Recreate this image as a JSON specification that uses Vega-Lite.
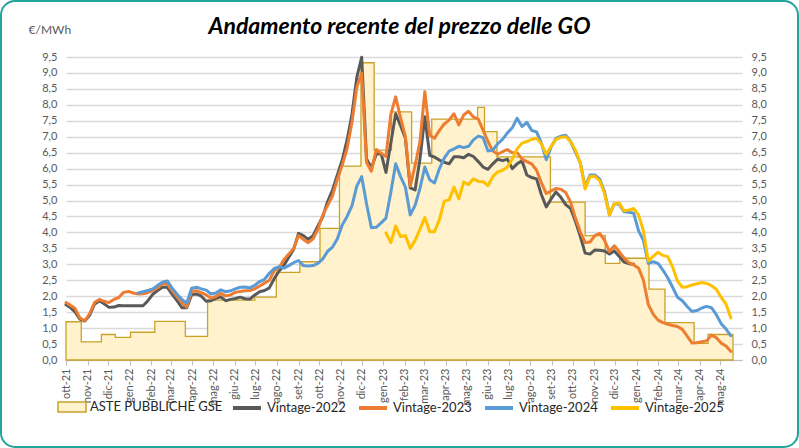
{
  "$schema": "https://vega.github.io/schema/vega-lite/v6.json",
  "width": 797,
  "height": 446,
  "autosize": {"type": "none"},
  "padding": 1,
  "background": "white",
  "title": {
    "text": "Andamento recente del prezzo delle GO",
    "anchor": "middle",
    "frame": "group",
    "font": "Lato",
    "fontSize": 23,
    "fontWeight": "bold",
    "fontStyle": "italic",
    "color": "#000000",
    "baseline": "alphabetic",
    "offset": -56
  },
  "config": {
    "font": "Lato",
    "view": {"stroke": "#22a39b", "strokeWidth": 2, "cornerRadius": 14},
    "axis": {"labelFont": "Lato", "labelColor": "#595959", "labelFontSize": 11},
    "legend": {"labelFont": "Lato", "labelFontSize": 13, "labelColor": "#262626", "padding": 0}
  },
  "datasets": {
    "gse": [
      {"d": "2021-10-01", "v": 1.2},
      {"d": "2021-10-23", "v": 0.57},
      {"d": "2021-11-21", "v": 0.8},
      {"d": "2021-12-11", "v": 0.71},
      {"d": "2022-01-02", "v": 0.87},
      {"d": "2022-02-06", "v": 1.21},
      {"d": "2022-03-22", "v": 0.74},
      {"d": "2022-04-23", "v": 1.88},
      {"d": "2022-06-30", "v": 1.97},
      {"d": "2022-07-31", "v": 2.75},
      {"d": "2022-09-03", "v": 3.08},
      {"d": "2022-10-02", "v": 4.13},
      {"d": "2022-10-30", "v": 6.08},
      {"d": "2022-11-30", "v": 9.32},
      {"d": "2022-12-19", "v": 6.58},
      {"d": "2023-01-13", "v": 7.78},
      {"d": "2023-02-11", "v": 6.17},
      {"d": "2023-03-12", "v": 7.55},
      {"d": "2023-05-17", "v": 7.92},
      {"d": "2023-05-27", "v": 7.16},
      {"d": "2023-06-14", "v": 6.37},
      {"d": "2023-08-30", "v": 4.95},
      {"d": "2023-10-19", "v": 3.9},
      {"d": "2023-11-17", "v": 3.03},
      {"d": "2023-12-08", "v": 3.19},
      {"d": "2024-01-19", "v": 2.22},
      {"d": "2024-02-11", "v": 1.17},
      {"d": "2024-03-24", "v": 0.52},
      {"d": "2024-04-13", "v": 0.8},
      {"d": "2024-05-19", "v": 0.8}
    ],
    "vin": [
      {"d": "2021-10-01", "s": "Vintage-2022", "v": 1.73},
      {"d": "2021-10-07", "s": "Vintage-2022", "v": 1.65},
      {"d": "2021-10-14", "s": "Vintage-2022", "v": 1.51},
      {"d": "2021-10-21", "s": "Vintage-2022", "v": 1.28},
      {"d": "2021-10-28", "s": "Vintage-2022", "v": 1.22},
      {"d": "2021-11-04", "s": "Vintage-2022", "v": 1.40},
      {"d": "2021-11-11", "s": "Vintage-2022", "v": 1.75},
      {"d": "2021-11-18", "s": "Vintage-2022", "v": 1.86},
      {"d": "2021-11-25", "s": "Vintage-2022", "v": 1.76},
      {"d": "2021-12-02", "s": "Vintage-2022", "v": 1.65},
      {"d": "2021-12-09", "s": "Vintage-2022", "v": 1.66},
      {"d": "2021-12-16", "s": "Vintage-2022", "v": 1.71},
      {"d": "2021-12-23", "s": "Vintage-2022", "v": 1.70},
      {"d": "2021-12-30", "s": "Vintage-2022", "v": 1.70},
      {"d": "2022-01-06", "s": "Vintage-2022", "v": 1.70},
      {"d": "2022-01-13", "s": "Vintage-2022", "v": 1.70},
      {"d": "2022-01-20", "s": "Vintage-2022", "v": 1.70},
      {"d": "2022-01-27", "s": "Vintage-2022", "v": 1.86},
      {"d": "2022-02-03", "s": "Vintage-2022", "v": 2.06},
      {"d": "2022-02-10", "s": "Vintage-2022", "v": 2.18},
      {"d": "2022-02-17", "s": "Vintage-2022", "v": 2.28},
      {"d": "2022-02-24", "s": "Vintage-2022", "v": 2.28},
      {"d": "2022-03-03", "s": "Vintage-2022", "v": 2.06},
      {"d": "2022-03-10", "s": "Vintage-2022", "v": 1.86},
      {"d": "2022-03-17", "s": "Vintage-2022", "v": 1.64},
      {"d": "2022-03-24", "s": "Vintage-2022", "v": 1.64},
      {"d": "2022-03-31", "s": "Vintage-2022", "v": 2.05},
      {"d": "2022-04-07", "s": "Vintage-2022", "v": 2.07},
      {"d": "2022-04-14", "s": "Vintage-2022", "v": 2.00},
      {"d": "2022-04-21", "s": "Vintage-2022", "v": 1.84},
      {"d": "2022-04-28", "s": "Vintage-2022", "v": 1.86},
      {"d": "2022-05-05", "s": "Vintage-2022", "v": 1.93},
      {"d": "2022-05-12", "s": "Vintage-2022", "v": 1.98},
      {"d": "2022-05-19", "s": "Vintage-2022", "v": 1.86},
      {"d": "2022-05-26", "s": "Vintage-2022", "v": 1.90},
      {"d": "2022-06-02", "s": "Vintage-2022", "v": 1.93},
      {"d": "2022-06-09", "s": "Vintage-2022", "v": 1.97},
      {"d": "2022-06-16", "s": "Vintage-2022", "v": 1.92},
      {"d": "2022-06-23", "s": "Vintage-2022", "v": 1.91},
      {"d": "2022-06-30", "s": "Vintage-2022", "v": 2.04},
      {"d": "2022-07-07", "s": "Vintage-2022", "v": 2.14},
      {"d": "2022-07-14", "s": "Vintage-2022", "v": 2.18},
      {"d": "2022-07-21", "s": "Vintage-2022", "v": 2.26},
      {"d": "2022-07-28", "s": "Vintage-2022", "v": 2.55},
      {"d": "2022-08-04", "s": "Vintage-2022", "v": 2.79},
      {"d": "2022-08-11", "s": "Vintage-2022", "v": 2.97},
      {"d": "2022-08-18", "s": "Vintage-2022", "v": 3.22},
      {"d": "2022-08-25", "s": "Vintage-2022", "v": 3.47},
      {"d": "2022-09-01", "s": "Vintage-2022", "v": 3.97},
      {"d": "2022-09-08", "s": "Vintage-2022", "v": 3.90},
      {"d": "2022-09-15", "s": "Vintage-2022", "v": 3.78},
      {"d": "2022-09-22", "s": "Vintage-2022", "v": 3.90},
      {"d": "2022-09-29", "s": "Vintage-2022", "v": 4.20},
      {"d": "2022-10-06", "s": "Vintage-2022", "v": 4.50},
      {"d": "2022-10-13", "s": "Vintage-2022", "v": 4.97},
      {"d": "2022-10-20", "s": "Vintage-2022", "v": 5.33},
      {"d": "2022-10-27", "s": "Vintage-2022", "v": 5.80},
      {"d": "2022-11-03", "s": "Vintage-2022", "v": 6.27},
      {"d": "2022-11-10", "s": "Vintage-2022", "v": 6.90},
      {"d": "2022-11-17", "s": "Vintage-2022", "v": 7.70},
      {"d": "2022-11-24", "s": "Vintage-2022", "v": 8.86},
      {"d": "2022-12-01", "s": "Vintage-2022", "v": 9.49},
      {"d": "2022-12-08", "s": "Vintage-2022", "v": 6.30},
      {"d": "2022-12-15", "s": "Vintage-2022", "v": 6.02},
      {"d": "2022-12-22", "s": "Vintage-2022", "v": 6.45},
      {"d": "2022-12-29", "s": "Vintage-2022", "v": 6.48},
      {"d": "2023-01-05", "s": "Vintage-2022", "v": 5.88},
      {"d": "2023-01-12", "s": "Vintage-2022", "v": 6.80},
      {"d": "2023-01-19", "s": "Vintage-2022", "v": 7.72},
      {"d": "2023-01-26", "s": "Vintage-2022", "v": 7.35},
      {"d": "2023-02-02", "s": "Vintage-2022", "v": 6.95},
      {"d": "2023-02-09", "s": "Vintage-2022", "v": 5.40},
      {"d": "2023-02-16", "s": "Vintage-2022", "v": 5.33},
      {"d": "2023-02-23", "s": "Vintage-2022", "v": 6.30},
      {"d": "2023-03-02", "s": "Vintage-2022", "v": 7.63},
      {"d": "2023-03-09", "s": "Vintage-2022", "v": 6.42},
      {"d": "2023-03-16", "s": "Vintage-2022", "v": 6.36},
      {"d": "2023-03-23", "s": "Vintage-2022", "v": 6.27},
      {"d": "2023-03-30", "s": "Vintage-2022", "v": 6.20},
      {"d": "2023-04-06", "s": "Vintage-2022", "v": 6.15},
      {"d": "2023-04-13", "s": "Vintage-2022", "v": 6.37},
      {"d": "2023-04-20", "s": "Vintage-2022", "v": 6.37},
      {"d": "2023-04-27", "s": "Vintage-2022", "v": 6.34},
      {"d": "2023-05-04", "s": "Vintage-2022", "v": 6.45},
      {"d": "2023-05-11", "s": "Vintage-2022", "v": 6.38},
      {"d": "2023-05-18", "s": "Vintage-2022", "v": 6.22},
      {"d": "2023-05-25", "s": "Vintage-2022", "v": 6.05},
      {"d": "2023-06-01", "s": "Vintage-2022", "v": 5.98},
      {"d": "2023-06-08", "s": "Vintage-2022", "v": 6.15},
      {"d": "2023-06-15", "s": "Vintage-2022", "v": 6.30},
      {"d": "2023-06-22", "s": "Vintage-2022", "v": 6.25},
      {"d": "2023-06-29", "s": "Vintage-2022", "v": 6.30},
      {"d": "2023-07-06", "s": "Vintage-2022", "v": 6.00},
      {"d": "2023-07-13", "s": "Vintage-2022", "v": 6.15},
      {"d": "2023-07-20", "s": "Vintage-2022", "v": 6.25},
      {"d": "2023-07-27", "s": "Vintage-2022", "v": 5.80},
      {"d": "2023-08-03", "s": "Vintage-2022", "v": 5.72},
      {"d": "2023-08-10", "s": "Vintage-2022", "v": 5.68},
      {"d": "2023-08-17", "s": "Vintage-2022", "v": 5.18},
      {"d": "2023-08-24", "s": "Vintage-2022", "v": 4.80},
      {"d": "2023-08-31", "s": "Vintage-2022", "v": 5.05},
      {"d": "2023-09-07", "s": "Vintage-2022", "v": 5.27},
      {"d": "2023-09-14", "s": "Vintage-2022", "v": 5.10},
      {"d": "2023-09-21", "s": "Vintage-2022", "v": 4.87},
      {"d": "2023-09-28", "s": "Vintage-2022", "v": 4.75},
      {"d": "2023-10-05", "s": "Vintage-2022", "v": 4.35},
      {"d": "2023-10-12", "s": "Vintage-2022", "v": 3.88},
      {"d": "2023-10-19", "s": "Vintage-2022", "v": 3.35},
      {"d": "2023-10-26", "s": "Vintage-2022", "v": 3.32},
      {"d": "2023-11-02", "s": "Vintage-2022", "v": 3.45},
      {"d": "2023-11-09", "s": "Vintage-2022", "v": 3.44},
      {"d": "2023-11-16", "s": "Vintage-2022", "v": 3.42},
      {"d": "2023-11-23", "s": "Vintage-2022", "v": 3.32},
      {"d": "2023-11-30", "s": "Vintage-2022", "v": 3.42},
      {"d": "2023-12-07", "s": "Vintage-2022", "v": 3.25},
      {"d": "2023-12-14", "s": "Vintage-2022", "v": 3.07},
      {"d": "2023-12-21", "s": "Vintage-2022", "v": 3.02},
      {"d": "2023-12-28", "s": "Vintage-2022", "v": 3.00},

      {"d": "2021-10-01", "s": "Vintage-2023", "v": 1.80},
      {"d": "2021-10-07", "s": "Vintage-2023", "v": 1.72},
      {"d": "2021-10-14", "s": "Vintage-2023", "v": 1.62},
      {"d": "2021-10-21", "s": "Vintage-2023", "v": 1.32},
      {"d": "2021-10-28", "s": "Vintage-2023", "v": 1.23},
      {"d": "2021-11-04", "s": "Vintage-2023", "v": 1.45},
      {"d": "2021-11-11", "s": "Vintage-2023", "v": 1.80},
      {"d": "2021-11-18", "s": "Vintage-2023", "v": 1.90},
      {"d": "2021-11-25", "s": "Vintage-2023", "v": 1.84},
      {"d": "2021-12-02", "s": "Vintage-2023", "v": 1.80},
      {"d": "2021-12-09", "s": "Vintage-2023", "v": 1.90},
      {"d": "2021-12-16", "s": "Vintage-2023", "v": 1.96},
      {"d": "2021-12-23", "s": "Vintage-2023", "v": 2.12},
      {"d": "2021-12-30", "s": "Vintage-2023", "v": 2.15},
      {"d": "2022-01-06", "s": "Vintage-2023", "v": 2.10},
      {"d": "2022-01-13", "s": "Vintage-2023", "v": 2.07},
      {"d": "2022-01-20", "s": "Vintage-2023", "v": 2.08},
      {"d": "2022-01-27", "s": "Vintage-2023", "v": 2.11},
      {"d": "2022-02-03", "s": "Vintage-2023", "v": 2.18},
      {"d": "2022-02-10", "s": "Vintage-2023", "v": 2.27},
      {"d": "2022-02-17", "s": "Vintage-2023", "v": 2.38},
      {"d": "2022-02-24", "s": "Vintage-2023", "v": 2.39},
      {"d": "2022-03-03", "s": "Vintage-2023", "v": 2.17},
      {"d": "2022-03-10", "s": "Vintage-2023", "v": 1.98},
      {"d": "2022-03-17", "s": "Vintage-2023", "v": 1.80},
      {"d": "2022-03-24", "s": "Vintage-2023", "v": 1.66},
      {"d": "2022-03-31", "s": "Vintage-2023", "v": 2.15},
      {"d": "2022-04-07", "s": "Vintage-2023", "v": 2.17},
      {"d": "2022-04-14", "s": "Vintage-2023", "v": 2.11},
      {"d": "2022-04-21", "s": "Vintage-2023", "v": 2.04},
      {"d": "2022-04-28", "s": "Vintage-2023", "v": 1.94},
      {"d": "2022-05-05", "s": "Vintage-2023", "v": 1.99},
      {"d": "2022-05-12", "s": "Vintage-2023", "v": 2.09},
      {"d": "2022-05-19", "s": "Vintage-2023", "v": 2.01},
      {"d": "2022-05-26", "s": "Vintage-2023", "v": 2.04},
      {"d": "2022-06-02", "s": "Vintage-2023", "v": 2.12},
      {"d": "2022-06-09", "s": "Vintage-2023", "v": 2.15},
      {"d": "2022-06-16", "s": "Vintage-2023", "v": 2.17},
      {"d": "2022-06-23", "s": "Vintage-2023", "v": 2.18},
      {"d": "2022-06-30", "s": "Vintage-2023", "v": 2.23},
      {"d": "2022-07-07", "s": "Vintage-2023", "v": 2.32},
      {"d": "2022-07-14", "s": "Vintage-2023", "v": 2.41},
      {"d": "2022-07-21", "s": "Vintage-2023", "v": 2.50},
      {"d": "2022-07-28", "s": "Vintage-2023", "v": 2.80},
      {"d": "2022-08-04", "s": "Vintage-2023", "v": 2.89},
      {"d": "2022-08-11", "s": "Vintage-2023", "v": 3.15},
      {"d": "2022-08-18", "s": "Vintage-2023", "v": 3.32},
      {"d": "2022-08-25", "s": "Vintage-2023", "v": 3.50},
      {"d": "2022-09-01", "s": "Vintage-2023", "v": 3.90},
      {"d": "2022-09-08", "s": "Vintage-2023", "v": 3.78},
      {"d": "2022-09-15", "s": "Vintage-2023", "v": 3.68},
      {"d": "2022-09-22", "s": "Vintage-2023", "v": 3.80},
      {"d": "2022-09-29", "s": "Vintage-2023", "v": 4.10},
      {"d": "2022-10-06", "s": "Vintage-2023", "v": 4.55},
      {"d": "2022-10-13", "s": "Vintage-2023", "v": 4.85},
      {"d": "2022-10-20", "s": "Vintage-2023", "v": 5.15},
      {"d": "2022-10-27", "s": "Vintage-2023", "v": 5.67},
      {"d": "2022-11-03", "s": "Vintage-2023", "v": 6.11},
      {"d": "2022-11-10", "s": "Vintage-2023", "v": 6.63},
      {"d": "2022-11-17", "s": "Vintage-2023", "v": 7.45},
      {"d": "2022-11-24", "s": "Vintage-2023", "v": 8.55},
      {"d": "2022-12-01", "s": "Vintage-2023", "v": 8.99},
      {"d": "2022-12-08", "s": "Vintage-2023", "v": 6.20},
      {"d": "2022-12-15", "s": "Vintage-2023", "v": 5.92},
      {"d": "2022-12-22", "s": "Vintage-2023", "v": 6.60},
      {"d": "2022-12-29", "s": "Vintage-2023", "v": 6.48},
      {"d": "2023-01-05", "s": "Vintage-2023", "v": 6.38},
      {"d": "2023-01-12", "s": "Vintage-2023", "v": 7.70},
      {"d": "2023-01-19", "s": "Vintage-2023", "v": 8.25},
      {"d": "2023-01-26", "s": "Vintage-2023", "v": 7.60},
      {"d": "2023-02-02", "s": "Vintage-2023", "v": 7.00},
      {"d": "2023-02-09", "s": "Vintage-2023", "v": 5.45},
      {"d": "2023-02-16", "s": "Vintage-2023", "v": 6.10},
      {"d": "2023-02-23", "s": "Vintage-2023", "v": 6.85},
      {"d": "2023-03-02", "s": "Vintage-2023", "v": 8.41},
      {"d": "2023-03-09", "s": "Vintage-2023", "v": 7.05},
      {"d": "2023-03-16", "s": "Vintage-2023", "v": 6.95},
      {"d": "2023-03-23", "s": "Vintage-2023", "v": 7.20},
      {"d": "2023-03-30", "s": "Vintage-2023", "v": 7.40},
      {"d": "2023-04-06", "s": "Vintage-2023", "v": 7.52},
      {"d": "2023-04-13", "s": "Vintage-2023", "v": 7.72},
      {"d": "2023-04-20", "s": "Vintage-2023", "v": 7.37},
      {"d": "2023-04-27", "s": "Vintage-2023", "v": 7.68},
      {"d": "2023-05-04", "s": "Vintage-2023", "v": 7.80},
      {"d": "2023-05-11", "s": "Vintage-2023", "v": 7.62},
      {"d": "2023-05-18", "s": "Vintage-2023", "v": 7.55},
      {"d": "2023-05-25", "s": "Vintage-2023", "v": 7.20},
      {"d": "2023-06-01", "s": "Vintage-2023", "v": 6.85},
      {"d": "2023-06-08", "s": "Vintage-2023", "v": 6.55},
      {"d": "2023-06-15", "s": "Vintage-2023", "v": 6.45},
      {"d": "2023-06-22", "s": "Vintage-2023", "v": 6.53},
      {"d": "2023-06-29", "s": "Vintage-2023", "v": 6.60},
      {"d": "2023-07-06", "s": "Vintage-2023", "v": 6.50},
      {"d": "2023-07-13", "s": "Vintage-2023", "v": 6.50},
      {"d": "2023-07-20", "s": "Vintage-2023", "v": 6.30},
      {"d": "2023-07-27", "s": "Vintage-2023", "v": 6.22},
      {"d": "2023-08-03", "s": "Vintage-2023", "v": 6.15},
      {"d": "2023-08-10", "s": "Vintage-2023", "v": 5.95},
      {"d": "2023-08-17", "s": "Vintage-2023", "v": 5.55},
      {"d": "2023-08-24", "s": "Vintage-2023", "v": 5.22},
      {"d": "2023-08-31", "s": "Vintage-2023", "v": 5.30},
      {"d": "2023-09-07", "s": "Vintage-2023", "v": 5.38},
      {"d": "2023-09-14", "s": "Vintage-2023", "v": 5.35},
      {"d": "2023-09-21", "s": "Vintage-2023", "v": 5.25},
      {"d": "2023-09-28", "s": "Vintage-2023", "v": 4.95},
      {"d": "2023-10-05", "s": "Vintage-2023", "v": 4.45},
      {"d": "2023-10-12", "s": "Vintage-2023", "v": 4.02},
      {"d": "2023-10-19", "s": "Vintage-2023", "v": 3.68},
      {"d": "2023-10-26", "s": "Vintage-2023", "v": 3.70},
      {"d": "2023-11-02", "s": "Vintage-2023", "v": 3.90},
      {"d": "2023-11-09", "s": "Vintage-2023", "v": 3.97},
      {"d": "2023-11-16", "s": "Vintage-2023", "v": 3.75},
      {"d": "2023-11-23", "s": "Vintage-2023", "v": 3.40},
      {"d": "2023-11-30", "s": "Vintage-2023", "v": 3.58},
      {"d": "2023-12-07", "s": "Vintage-2023", "v": 3.40},
      {"d": "2023-12-14", "s": "Vintage-2023", "v": 3.20},
      {"d": "2023-12-21", "s": "Vintage-2023", "v": 3.05},
      {"d": "2023-12-28", "s": "Vintage-2023", "v": 2.98},
      {"d": "2024-01-04", "s": "Vintage-2023", "v": 2.88},
      {"d": "2024-01-11", "s": "Vintage-2023", "v": 2.50},
      {"d": "2024-01-18", "s": "Vintage-2023", "v": 1.74},
      {"d": "2024-01-25", "s": "Vintage-2023", "v": 1.44},
      {"d": "2024-02-01", "s": "Vintage-2023", "v": 1.25},
      {"d": "2024-02-08", "s": "Vintage-2023", "v": 1.17},
      {"d": "2024-02-15", "s": "Vintage-2023", "v": 1.12},
      {"d": "2024-02-22", "s": "Vintage-2023", "v": 1.08},
      {"d": "2024-02-29", "s": "Vintage-2023", "v": 1.05},
      {"d": "2024-03-07", "s": "Vintage-2023", "v": 0.96},
      {"d": "2024-03-14", "s": "Vintage-2023", "v": 0.75},
      {"d": "2024-03-21", "s": "Vintage-2023", "v": 0.53},
      {"d": "2024-03-28", "s": "Vintage-2023", "v": 0.54},
      {"d": "2024-04-04", "s": "Vintage-2023", "v": 0.57},
      {"d": "2024-04-11", "s": "Vintage-2023", "v": 0.60},
      {"d": "2024-04-18", "s": "Vintage-2023", "v": 0.78},
      {"d": "2024-04-25", "s": "Vintage-2023", "v": 0.70},
      {"d": "2024-05-02", "s": "Vintage-2023", "v": 0.53},
      {"d": "2024-05-09", "s": "Vintage-2023", "v": 0.44},
      {"d": "2024-05-16", "s": "Vintage-2023", "v": 0.27},

      {"d": "2022-01-13", "s": "Vintage-2024", "v": 2.10},
      {"d": "2022-01-20", "s": "Vintage-2024", "v": 2.14},
      {"d": "2022-01-27", "s": "Vintage-2024", "v": 2.18},
      {"d": "2022-02-03", "s": "Vintage-2024", "v": 2.23},
      {"d": "2022-02-10", "s": "Vintage-2024", "v": 2.34},
      {"d": "2022-02-17", "s": "Vintage-2024", "v": 2.44},
      {"d": "2022-02-24", "s": "Vintage-2024", "v": 2.48},
      {"d": "2022-03-03", "s": "Vintage-2024", "v": 2.25},
      {"d": "2022-03-10", "s": "Vintage-2024", "v": 2.06},
      {"d": "2022-03-17", "s": "Vintage-2024", "v": 1.90},
      {"d": "2022-03-24", "s": "Vintage-2024", "v": 1.78},
      {"d": "2022-03-31", "s": "Vintage-2024", "v": 2.25},
      {"d": "2022-04-07", "s": "Vintage-2024", "v": 2.28},
      {"d": "2022-04-14", "s": "Vintage-2024", "v": 2.23},
      {"d": "2022-04-21", "s": "Vintage-2024", "v": 2.19},
      {"d": "2022-04-28", "s": "Vintage-2024", "v": 2.07},
      {"d": "2022-05-05", "s": "Vintage-2024", "v": 2.10},
      {"d": "2022-05-12", "s": "Vintage-2024", "v": 2.20},
      {"d": "2022-05-19", "s": "Vintage-2024", "v": 2.14},
      {"d": "2022-05-26", "s": "Vintage-2024", "v": 2.17},
      {"d": "2022-06-02", "s": "Vintage-2024", "v": 2.23},
      {"d": "2022-06-09", "s": "Vintage-2024", "v": 2.28},
      {"d": "2022-06-16", "s": "Vintage-2024", "v": 2.29},
      {"d": "2022-06-23", "s": "Vintage-2024", "v": 2.26},
      {"d": "2022-06-30", "s": "Vintage-2024", "v": 2.34},
      {"d": "2022-07-07", "s": "Vintage-2024", "v": 2.46},
      {"d": "2022-07-14", "s": "Vintage-2024", "v": 2.53},
      {"d": "2022-07-21", "s": "Vintage-2024", "v": 2.72},
      {"d": "2022-07-28", "s": "Vintage-2024", "v": 2.87},
      {"d": "2022-08-04", "s": "Vintage-2024", "v": 2.92},
      {"d": "2022-08-11", "s": "Vintage-2024", "v": 2.88},
      {"d": "2022-08-18", "s": "Vintage-2024", "v": 2.96},
      {"d": "2022-08-25", "s": "Vintage-2024", "v": 3.05},
      {"d": "2022-09-01", "s": "Vintage-2024", "v": 3.12},
      {"d": "2022-09-08", "s": "Vintage-2024", "v": 2.96},
      {"d": "2022-09-15", "s": "Vintage-2024", "v": 2.95},
      {"d": "2022-09-22", "s": "Vintage-2024", "v": 2.96},
      {"d": "2022-09-29", "s": "Vintage-2024", "v": 3.03},
      {"d": "2022-10-06", "s": "Vintage-2024", "v": 3.17},
      {"d": "2022-10-13", "s": "Vintage-2024", "v": 3.41},
      {"d": "2022-10-20", "s": "Vintage-2024", "v": 3.54},
      {"d": "2022-10-27", "s": "Vintage-2024", "v": 3.80},
      {"d": "2022-11-03", "s": "Vintage-2024", "v": 4.23},
      {"d": "2022-11-10", "s": "Vintage-2024", "v": 4.50},
      {"d": "2022-11-17", "s": "Vintage-2024", "v": 4.83},
      {"d": "2022-11-24", "s": "Vintage-2024", "v": 5.45},
      {"d": "2022-12-01", "s": "Vintage-2024", "v": 5.75},
      {"d": "2022-12-08", "s": "Vintage-2024", "v": 4.90},
      {"d": "2022-12-15", "s": "Vintage-2024", "v": 4.15},
      {"d": "2022-12-22", "s": "Vintage-2024", "v": 4.16},
      {"d": "2022-12-29", "s": "Vintage-2024", "v": 4.30},
      {"d": "2023-01-05", "s": "Vintage-2024", "v": 4.45},
      {"d": "2023-01-12", "s": "Vintage-2024", "v": 5.25},
      {"d": "2023-01-19", "s": "Vintage-2024", "v": 6.15},
      {"d": "2023-01-26", "s": "Vintage-2024", "v": 5.75},
      {"d": "2023-02-02", "s": "Vintage-2024", "v": 5.42},
      {"d": "2023-02-09", "s": "Vintage-2024", "v": 4.55},
      {"d": "2023-02-16", "s": "Vintage-2024", "v": 4.85},
      {"d": "2023-02-23", "s": "Vintage-2024", "v": 5.38},
      {"d": "2023-03-02", "s": "Vintage-2024", "v": 6.05},
      {"d": "2023-03-09", "s": "Vintage-2024", "v": 5.65},
      {"d": "2023-03-16", "s": "Vintage-2024", "v": 5.55},
      {"d": "2023-03-23", "s": "Vintage-2024", "v": 6.00},
      {"d": "2023-03-30", "s": "Vintage-2024", "v": 6.33},
      {"d": "2023-04-06", "s": "Vintage-2024", "v": 6.55},
      {"d": "2023-04-13", "s": "Vintage-2024", "v": 6.62},
      {"d": "2023-04-20", "s": "Vintage-2024", "v": 6.70},
      {"d": "2023-04-27", "s": "Vintage-2024", "v": 6.66},
      {"d": "2023-05-04", "s": "Vintage-2024", "v": 6.70},
      {"d": "2023-05-11", "s": "Vintage-2024", "v": 6.90},
      {"d": "2023-05-18", "s": "Vintage-2024", "v": 7.02},
      {"d": "2023-05-25", "s": "Vintage-2024", "v": 6.97},
      {"d": "2023-06-01", "s": "Vintage-2024", "v": 6.55},
      {"d": "2023-06-08", "s": "Vintage-2024", "v": 6.58},
      {"d": "2023-06-15", "s": "Vintage-2024", "v": 6.78},
      {"d": "2023-06-22", "s": "Vintage-2024", "v": 6.92},
      {"d": "2023-06-29", "s": "Vintage-2024", "v": 7.12},
      {"d": "2023-07-06", "s": "Vintage-2024", "v": 7.28},
      {"d": "2023-07-13", "s": "Vintage-2024", "v": 7.58},
      {"d": "2023-07-20", "s": "Vintage-2024", "v": 7.32},
      {"d": "2023-07-27", "s": "Vintage-2024", "v": 7.45},
      {"d": "2023-08-03", "s": "Vintage-2024", "v": 7.20},
      {"d": "2023-08-10", "s": "Vintage-2024", "v": 7.15},
      {"d": "2023-08-17", "s": "Vintage-2024", "v": 6.80},
      {"d": "2023-08-24", "s": "Vintage-2024", "v": 6.28},
      {"d": "2023-08-31", "s": "Vintage-2024", "v": 6.68},
      {"d": "2023-09-07", "s": "Vintage-2024", "v": 6.95},
      {"d": "2023-09-14", "s": "Vintage-2024", "v": 7.02},
      {"d": "2023-09-21", "s": "Vintage-2024", "v": 7.05},
      {"d": "2023-09-28", "s": "Vintage-2024", "v": 6.85},
      {"d": "2023-10-05", "s": "Vintage-2024", "v": 6.52},
      {"d": "2023-10-12", "s": "Vintage-2024", "v": 6.18},
      {"d": "2023-10-19", "s": "Vintage-2024", "v": 5.42},
      {"d": "2023-10-26", "s": "Vintage-2024", "v": 5.80},
      {"d": "2023-11-02", "s": "Vintage-2024", "v": 5.80},
      {"d": "2023-11-09", "s": "Vintage-2024", "v": 5.67},
      {"d": "2023-11-16", "s": "Vintage-2024", "v": 5.27},
      {"d": "2023-11-23", "s": "Vintage-2024", "v": 4.55},
      {"d": "2023-11-30", "s": "Vintage-2024", "v": 4.90},
      {"d": "2023-12-07", "s": "Vintage-2024", "v": 4.88},
      {"d": "2023-12-14", "s": "Vintage-2024", "v": 4.65},
      {"d": "2023-12-21", "s": "Vintage-2024", "v": 4.63},
      {"d": "2023-12-28", "s": "Vintage-2024", "v": 4.60},
      {"d": "2024-01-04", "s": "Vintage-2024", "v": 4.05},
      {"d": "2024-01-11", "s": "Vintage-2024", "v": 3.75},
      {"d": "2024-01-18", "s": "Vintage-2024", "v": 3.03},
      {"d": "2024-01-25", "s": "Vintage-2024", "v": 3.08},
      {"d": "2024-02-01", "s": "Vintage-2024", "v": 3.03},
      {"d": "2024-02-08", "s": "Vintage-2024", "v": 2.82},
      {"d": "2024-02-15", "s": "Vintage-2024", "v": 2.58},
      {"d": "2024-02-22", "s": "Vintage-2024", "v": 2.28},
      {"d": "2024-02-29", "s": "Vintage-2024", "v": 1.97},
      {"d": "2024-03-07", "s": "Vintage-2024", "v": 1.86},
      {"d": "2024-03-14", "s": "Vintage-2024", "v": 1.68},
      {"d": "2024-03-21", "s": "Vintage-2024", "v": 1.52},
      {"d": "2024-03-28", "s": "Vintage-2024", "v": 1.55},
      {"d": "2024-04-04", "s": "Vintage-2024", "v": 1.63},
      {"d": "2024-04-11", "s": "Vintage-2024", "v": 1.68},
      {"d": "2024-04-18", "s": "Vintage-2024", "v": 1.64},
      {"d": "2024-04-25", "s": "Vintage-2024", "v": 1.42},
      {"d": "2024-05-02", "s": "Vintage-2024", "v": 1.14},
      {"d": "2024-05-09", "s": "Vintage-2024", "v": 0.97},
      {"d": "2024-05-16", "s": "Vintage-2024", "v": 0.76},

      {"d": "2023-01-05", "s": "Vintage-2025", "v": 3.99},
      {"d": "2023-01-12", "s": "Vintage-2025", "v": 3.68},
      {"d": "2023-01-19", "s": "Vintage-2025", "v": 4.20},
      {"d": "2023-01-26", "s": "Vintage-2025", "v": 3.87},
      {"d": "2023-02-02", "s": "Vintage-2025", "v": 3.90},
      {"d": "2023-02-09", "s": "Vintage-2025", "v": 3.50},
      {"d": "2023-02-16", "s": "Vintage-2025", "v": 3.75},
      {"d": "2023-02-23", "s": "Vintage-2025", "v": 4.10},
      {"d": "2023-03-02", "s": "Vintage-2025", "v": 4.47},
      {"d": "2023-03-09", "s": "Vintage-2025", "v": 4.02},
      {"d": "2023-03-16", "s": "Vintage-2025", "v": 4.02},
      {"d": "2023-03-23", "s": "Vintage-2025", "v": 4.40},
      {"d": "2023-03-30", "s": "Vintage-2025", "v": 4.98},
      {"d": "2023-04-06", "s": "Vintage-2025", "v": 5.02},
      {"d": "2023-04-13", "s": "Vintage-2025", "v": 5.42},
      {"d": "2023-04-20", "s": "Vintage-2025", "v": 5.05},
      {"d": "2023-04-27", "s": "Vintage-2025", "v": 5.58},
      {"d": "2023-05-04", "s": "Vintage-2025", "v": 5.50},
      {"d": "2023-05-11", "s": "Vintage-2025", "v": 5.68},
      {"d": "2023-05-18", "s": "Vintage-2025", "v": 5.60},
      {"d": "2023-05-25", "s": "Vintage-2025", "v": 5.59},
      {"d": "2023-06-01", "s": "Vintage-2025", "v": 5.47},
      {"d": "2023-06-08", "s": "Vintage-2025", "v": 5.75},
      {"d": "2023-06-15", "s": "Vintage-2025", "v": 5.90},
      {"d": "2023-06-22", "s": "Vintage-2025", "v": 5.95},
      {"d": "2023-06-29", "s": "Vintage-2025", "v": 6.05},
      {"d": "2023-07-06", "s": "Vintage-2025", "v": 6.30},
      {"d": "2023-07-13", "s": "Vintage-2025", "v": 6.62},
      {"d": "2023-07-20", "s": "Vintage-2025", "v": 6.80},
      {"d": "2023-07-27", "s": "Vintage-2025", "v": 6.85},
      {"d": "2023-08-03", "s": "Vintage-2025", "v": 6.92},
      {"d": "2023-08-10", "s": "Vintage-2025", "v": 6.95},
      {"d": "2023-08-17", "s": "Vintage-2025", "v": 6.78},
      {"d": "2023-08-24", "s": "Vintage-2025", "v": 6.45},
      {"d": "2023-08-31", "s": "Vintage-2025", "v": 6.70},
      {"d": "2023-09-07", "s": "Vintage-2025", "v": 6.92},
      {"d": "2023-09-14", "s": "Vintage-2025", "v": 6.98},
      {"d": "2023-09-21", "s": "Vintage-2025", "v": 7.00},
      {"d": "2023-09-28", "s": "Vintage-2025", "v": 6.85},
      {"d": "2023-10-05", "s": "Vintage-2025", "v": 6.58},
      {"d": "2023-10-12", "s": "Vintage-2025", "v": 6.18},
      {"d": "2023-10-19", "s": "Vintage-2025", "v": 5.36},
      {"d": "2023-10-26", "s": "Vintage-2025", "v": 5.75},
      {"d": "2023-11-02", "s": "Vintage-2025", "v": 5.76},
      {"d": "2023-11-09", "s": "Vintage-2025", "v": 5.62},
      {"d": "2023-11-16", "s": "Vintage-2025", "v": 5.22},
      {"d": "2023-11-23", "s": "Vintage-2025", "v": 4.55},
      {"d": "2023-11-30", "s": "Vintage-2025", "v": 4.90},
      {"d": "2023-12-07", "s": "Vintage-2025", "v": 4.92},
      {"d": "2023-12-14", "s": "Vintage-2025", "v": 4.68},
      {"d": "2023-12-21", "s": "Vintage-2025", "v": 4.70},
      {"d": "2023-12-28", "s": "Vintage-2025", "v": 4.75},
      {"d": "2024-01-04", "s": "Vintage-2025", "v": 4.55},
      {"d": "2024-01-11", "s": "Vintage-2025", "v": 4.05},
      {"d": "2024-01-18", "s": "Vintage-2025", "v": 3.10},
      {"d": "2024-01-25", "s": "Vintage-2025", "v": 3.25},
      {"d": "2024-02-01", "s": "Vintage-2025", "v": 3.38},
      {"d": "2024-02-08", "s": "Vintage-2025", "v": 3.28},
      {"d": "2024-02-15", "s": "Vintage-2025", "v": 3.24},
      {"d": "2024-02-22", "s": "Vintage-2025", "v": 2.92},
      {"d": "2024-02-29", "s": "Vintage-2025", "v": 2.48},
      {"d": "2024-03-07", "s": "Vintage-2025", "v": 2.28},
      {"d": "2024-03-14", "s": "Vintage-2025", "v": 2.30},
      {"d": "2024-03-21", "s": "Vintage-2025", "v": 2.35},
      {"d": "2024-03-28", "s": "Vintage-2025", "v": 2.39},
      {"d": "2024-04-04", "s": "Vintage-2025", "v": 2.43},
      {"d": "2024-04-11", "s": "Vintage-2025", "v": 2.40},
      {"d": "2024-04-18", "s": "Vintage-2025", "v": 2.33},
      {"d": "2024-04-25", "s": "Vintage-2025", "v": 2.22},
      {"d": "2024-05-02", "s": "Vintage-2025", "v": 1.96},
      {"d": "2024-05-09", "s": "Vintage-2025", "v": 1.75},
      {"d": "2024-05-16", "s": "Vintage-2025", "v": 1.32}
    ]
  },
  "encoding": {
    "x": {
      "field": "d",
      "type": "temporal",
      "scale": {
        "type": "utc",
        "domain": [
          {"year": 2021, "month": 10, "date": 1, "utc": true},
          {"year": 2024, "month": 6, "date": 1, "utc": true}
        ],
        "range": [65, 741]
      },
      "axis": {
        "orient": "bottom",
        "offset": -87,
        "title": null,
        "grid": false,
        "values": [
          {"year": 2021, "month": 10, "date": 1, "utc": true},
          {"year": 2021, "month": 11, "date": 1, "utc": true},
          {"year": 2021, "month": 12, "date": 1, "utc": true},
          {"year": 2022, "month": 1, "date": 1, "utc": true},
          {"year": 2022, "month": 2, "date": 1, "utc": true},
          {"year": 2022, "month": 3, "date": 1, "utc": true},
          {"year": 2022, "month": 4, "date": 1, "utc": true},
          {"year": 2022, "month": 5, "date": 1, "utc": true},
          {"year": 2022, "month": 6, "date": 1, "utc": true},
          {"year": 2022, "month": 7, "date": 1, "utc": true},
          {"year": 2022, "month": 8, "date": 1, "utc": true},
          {"year": 2022, "month": 9, "date": 1, "utc": true},
          {"year": 2022, "month": 10, "date": 1, "utc": true},
          {"year": 2022, "month": 11, "date": 1, "utc": true},
          {"year": 2022, "month": 12, "date": 1, "utc": true},
          {"year": 2023, "month": 1, "date": 1, "utc": true},
          {"year": 2023, "month": 2, "date": 1, "utc": true},
          {"year": 2023, "month": 3, "date": 1, "utc": true},
          {"year": 2023, "month": 4, "date": 1, "utc": true},
          {"year": 2023, "month": 5, "date": 1, "utc": true},
          {"year": 2023, "month": 6, "date": 1, "utc": true},
          {"year": 2023, "month": 7, "date": 1, "utc": true},
          {"year": 2023, "month": 8, "date": 1, "utc": true},
          {"year": 2023, "month": 9, "date": 1, "utc": true},
          {"year": 2023, "month": 10, "date": 1, "utc": true},
          {"year": 2023, "month": 11, "date": 1, "utc": true},
          {"year": 2023, "month": 12, "date": 1, "utc": true},
          {"year": 2024, "month": 1, "date": 1, "utc": true},
          {"year": 2024, "month": 2, "date": 1, "utc": true},
          {"year": 2024, "month": 3, "date": 1, "utc": true},
          {"year": 2024, "month": 4, "date": 1, "utc": true},
          {"year": 2024, "month": 5, "date": 1, "utc": true}
        ],
        "labelExpr": "['gen','feb','mar','apr','mag','giu','lug','ago','set','ott','nov','dic'][utcmonth(datum.value)] + '-' + utcFormat(datum.value, '%y')",
        "labelAngle": 270,
        "labelAlign": "right",
        "labelBaseline": "middle",
        "labelPadding": 3,
        "labelFontSize": 11,
        "tickSize": 5,
        "tickColor": "#bfbfbf",
        "domainColor": "#bfbfbf",
        "labelOverlap": false
      }
    }
  },
  "layer": [
    {
      "data": {"name": "gse"},
      "mark": {"type": "area", "interpolate": "step-after", "stroke": "#c9a227", "strokeWidth": 1.3, "opacity": 1},
      "encoding": {
        "y": {
          "field": "v",
          "type": "quantitative",
          "scale": {"domain": [0, 9.5], "range": [359, 56], "nice": false},
          "axis": {
            "orient": "left",
            "offset": -65,
            "values": [0, 0.5, 1, 1.5, 2, 2.5, 3, 3.5, 4, 4.5, 5, 5.5, 6, 6.5, 7, 7.5, 8, 8.5, 9, 9.5],
            "labelExpr": "replace(format(datum.value, '.1f'), '.', ',')",
            "domain": false,
            "ticks": false,
            "grid": true,
            "gridColor": "#d9d9d9",
            "gridWidth": 1.3,
            "labelPadding": 9,
            "title": "€/MWh",
            "titleAngle": 0,
            "titleX": -38,
            "titleY": 32,
            "titleAlign": "left",
            "titleBaseline": "alphabetic",
            "titleFont": "Lato",
            "titleFontSize": 12,
            "titleFontWeight": "normal",
            "titleColor": "#595959"
          }
        },
        "fill": {
          "datum": "ASTE PUBBLICHE GSE",
          "type": "nominal",
          "scale": {"range": ["#fff2cc"]},
          "legend": {
            "orient": "none",
            "legendX": 56,
            "legendY": 391,
            "title": null,
            "symbolType": "M-1,-0.35L1,-0.35L1,0.35L-1,0.35Z",
            "symbolSize": 784,
            "symbolStrokeColor": "#c9a227",
            "symbolStrokeWidth": 1.5,
            "symbolOpacity": 1,
            "labelOffset": 3
          }
        }
      }
    },
    {
      "data": {"name": "vin"},
      "mark": {"type": "line", "strokeWidth": 3, "strokeJoin": "round", "strokeCap": "round"},
      "encoding": {
        "y": {
          "field": "v",
          "type": "quantitative",
          "scale": {"domain": [0, 9.5], "range": [359, 56], "nice": false},
          "axis": {
            "orient": "right",
            "offset": -56,
            "values": [0, 0.5, 1, 1.5, 2, 2.5, 3, 3.5, 4, 4.5, 5, 5.5, 6, 6.5, 7, 7.5, 8, 8.5, 9, 9.5],
            "labelExpr": "replace(format(datum.value, '.1f'), '.', ',')",
            "domain": false,
            "ticks": false,
            "grid": false,
            "labelPadding": 9,
            "title": null
          }
        },
        "stroke": {
          "field": "s",
          "type": "nominal",
          "scale": {
            "domain": ["Vintage-2022", "Vintage-2023", "Vintage-2024", "Vintage-2025"],
            "range": ["#595959", "#ed7d31", "#5b9bd5", "#ffc000"]
          },
          "legend": {
            "orient": "none",
            "legendX": 230,
            "legendY": 391,
            "direction": "horizontal",
            "columns": 4,
            "columnPadding": 5,
            "title": null,
            "symbolType": "stroke",
            "symbolSize": 784,
            "symbolStrokeWidth": 4,
            "labelOffset": 4
          }
        }
      }
    }
  ],
  "resolve": {"axis": {"y": "independent"}}
}
